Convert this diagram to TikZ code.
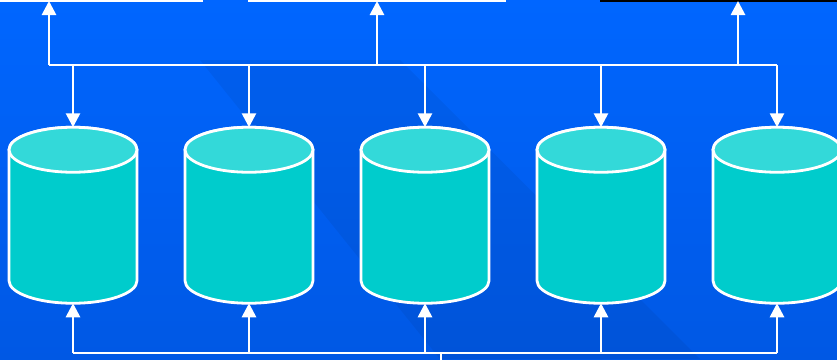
\documentclass[tikz,border=0pt]{standalone}
\usepackage{xcolor}
\usetikzlibrary{calc}
\usepackage{tikz}
\usetikzlibrary{positioning,arrows,arrows.meta}
\definecolor{bgtop}{HTML}{0066FF}
\definecolor{bgbot}{HTML}{0058E4}
\definecolor{diskbody}{HTML}{00CCCC}
\definecolor{disktop}{HTML}{33D9D9}
\tikzset{
disk/.style={minimum width=128pt, minimum height=176pt, inner sep=0pt, outer sep=0pt},
rim/.style={draw=white, line width=2.8pt},
wire/.style={white, line width=2.7pt},
flow/.style={wire, -{Triangle[length=14pt,width=14pt]}}
}

\begin{document}
\begin{tikzpicture}[x=1pt,y=-1pt]
\useasboundingbox (0,0) rectangle (837,359);
\shade[top color=bgtop, bottom color=bgbot] (0,0) rectangle (837,359);
\fill[black,opacity=0.05] (200,60) -- (400,60) -- (700,359) -- (440,359) -- cycle;
\draw[white,line width=2pt] (0,0.5) -- (203,0.5);
\draw[white,line width=2pt] (248,0.5) -- (506,0.5);
\draw[black,line width=2pt] (600,0.5) -- (837,0.5);
\foreach \i in {1,...,5} {
  \node[disk] (d\i) at ({73+176*(\i-1)},215.25) {};
  \fill[diskbody,rim] ($(d\i.north west)+(0,22.5)$) -- ($(d\i.south west)+(0,-22.5)$)
    arc[start angle=180,end angle=360,x radius=64pt,y radius=22.5pt]
    -- ($(d\i.north east)+(0,22.5)$)
    arc[start angle=0,end angle=180,x radius=64pt,y radius=22.5pt] -- cycle;
  \fill[disktop,rim] ($(d\i.north)+(0,22.5)$) ellipse[x radius=64pt,y radius=22.5pt];
}
\coordinate (tbus) at (0,65);
\coordinate (bbus) at (0,353);
\coordinate (out1) at (49,1);
\coordinate (out2) at (377,1);
\coordinate (out3) at (738,1);
\coordinate (feed) at (441,360);
\draw[wire] (out1 |- tbus) -- (d5.north |- tbus);
\foreach \o in {out1,out2,out3}
  \draw[flow] (\o |- tbus) -- (\o);
\foreach \i in {1,...,5}
  \draw[flow] (d\i.north |- tbus) -- (d\i.north);
\draw[wire] (d1.south |- bbus) -- (d5.south |- bbus);
\foreach \i in {1,...,5}
  \draw[flow] (d\i.south |- bbus) -- (d\i.south);
\draw[wire] (feed |- bbus) -- (feed);
\end{tikzpicture}
\end{document}
